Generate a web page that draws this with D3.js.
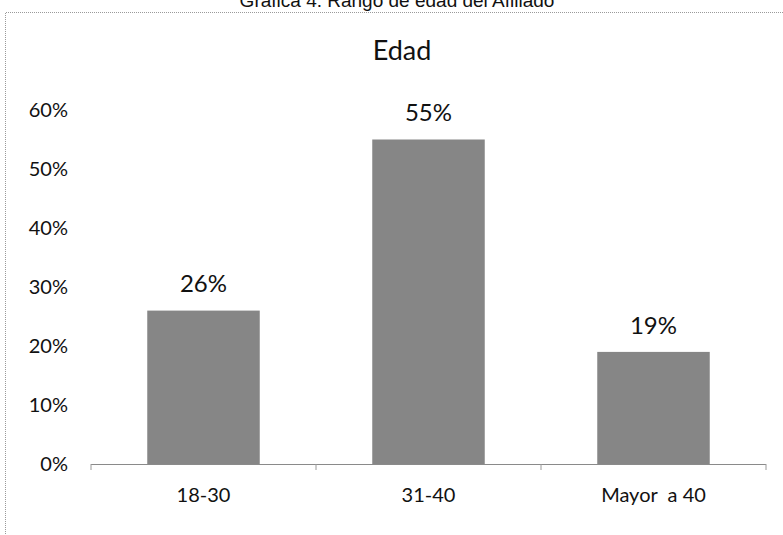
<!DOCTYPE html>
<html>
<head>
<meta charset="utf-8">
<script src="https://cdn.jsdelivr.net/npm/d3@7/dist/d3.min.js"></script>
<style>
  html, body { margin: 0; padding: 0; background: #fff; }
  svg { display: block; }
</style>
</head>
<body>
<svg id="chart" width="783" height="535"></svg>
<script>
const figureTitle = "Grafica 4. Rango de edad del Afiliado";
const chartTitle = "Edad";
const categories = ["18-30", "31-40", "Mayor\u00a0 a 40"];
const values = [26, 55, 19];
const yTicks = [0, 10, 20, 30, 40, 50, 60];

const svg = d3.select("#chart");
const W = 783, H = 535;
const font = "Lato, 'Open Sans', sans-serif";

// frame (dotted scan border)
svg.append("path")
  .attr("d", `M${W + 2},12.5 H5.5 V${H + 2}`)
  .attr("fill", "none")
  .attr("stroke", "#9a9a9a")
  .attr("stroke-width", 1)
  .attr("stroke-dasharray", "1,1");

// figure caption, partially clipped at top
svg.append("text")
  .attr("x", 397).attr("y", 7)
  .attr("text-anchor", "middle")
  .attr("font-family", "Arial, 'Liberation Sans', sans-serif")
  .attr("font-size", 19)
  .attr("fill", "#111")
  .text(figureTitle);

// chart title
svg.append("text")
  .attr("x", 402).attr("y", 60)
  .attr("text-anchor", "middle")
  .attr("font-family", font)
  .attr("font-size", 27)
  .attr("fill", "#111")
  .text(chartTitle);

const x = d3.scaleBand()
  .domain(categories)
  .range([91, 766])
  .paddingInner(0.5)
  .paddingOuter(0.25);

const y = d3.scaleLinear()
  .domain([0, 60])
  .range([464, 110]);

// y labels (no axis line)
svg.append("g")
  .selectAll("text")
  .data(yTicks)
  .join("text")
  .attr("x", 68)
  .attr("y", d => y(d))
  .attr("dy", "0.36em")
  .attr("text-anchor", "end")
  .attr("font-family", font)
  .attr("font-size", 20)
  .attr("fill", "#111")
  .text(d => d + "%");

// bars
svg.append("g")
  .selectAll("rect")
  .data(values)
  .join("rect")
  .attr("x", (d, i) => x(categories[i]))
  .attr("width", x.bandwidth())
  .attr("y", d => y(d))
  .attr("height", d => y(0) - y(d))
  .attr("fill", "#868686");

// x axis line with boundary ticks
const step = x.step();
const boundaries = [0, 1, 2, 3].map(i => 91 + i * step);
svg.append("line")
  .attr("x1", 91).attr("x2", 766)
  .attr("y1", y(0) + 0.5).attr("y2", y(0) + 0.5)
  .attr("stroke", "#8a8a8a")
  .attr("stroke-width", 1.2);
svg.append("g")
  .selectAll("line")
  .data(boundaries)
  .join("line")
  .attr("x1", d => d).attr("x2", d => d)
  .attr("y1", y(0)).attr("y2", y(0) + 6)
  .attr("stroke", "#9a9a9a")
  .attr("stroke-width", 1);

// category labels
svg.append("g")
  .selectAll("text")
  .data(categories)
  .join("text")
  .attr("x", d => x(d) + x.bandwidth() / 2)
  .attr("y", 495)
  .attr("dy", "0.36em")
  .attr("text-anchor", "middle")
  .attr("font-family", font)
  .attr("font-size", 20)
  .attr("fill", "#111")
  .text(d => d);

// data labels
svg.append("g")
  .selectAll("text")
  .data(values)
  .join("text")
  .attr("x", (d, i) => x(categories[i]) + x.bandwidth() / 2)
  .attr("y", d => y(d) - 27)
  .attr("dy", "0.36em")
  .attr("text-anchor", "middle")
  .attr("font-family", font)
  .attr("font-size", 24)
  .attr("fill", "#111")
  .text(d => d + "%");
</script>
</body>
</html>
